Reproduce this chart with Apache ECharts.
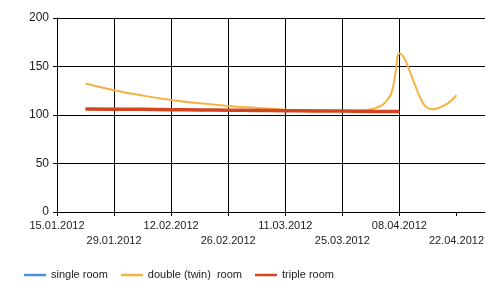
<!DOCTYPE html>
<html>
<head>
<meta charset="utf-8">
<script src="https://cdn.jsdelivr.net/npm/echarts@6/dist/echarts.min.js"></script>
<style>html,body{margin:0;padding:0;background:#fff}#c{width:500px;height:296px}</style>
</head>
<body>
<div id="c"></div>
<script>
var startDate = '2012-01-15';
var tickLabels = ['15.01.2012','29.01.2012','12.02.2012','26.02.2012','11.03.2012','25.03.2012','08.04.2012','22.04.2012'];
var seriesNames = ['single room', 'double (twin)  room', 'triple room'];

var weeklyDates = ['2012-01-22','2012-01-29','2012-02-05','2012-02-12','2012-02-19','2012-02-26','2012-03-04','2012-03-11','2012-03-18','2012-03-25','2012-04-01','2012-04-08'];
var singleValues = [106.2,106.0,105.8,105.5,105.2,105.0,104.7,104.5,104.2,104.0,103.7,103.5];
var tripleValues = [106.2,106.0,105.8,105.5,105.2,105.0,104.7,104.5,104.2,104.0,103.7,103.5];

var doubleDates = ['2012-01-22','2012-01-29','2012-02-05','2012-02-12','2012-02-19','2012-02-26','2012-03-04','2012-03-11','2012-03-18','2012-03-25','2012-03-27','2012-03-29',
  '2012-03-31','2012-04-01','2012-04-02','2012-04-03','2012-04-04','2012-04-05','2012-04-06','2012-04-07','2012-04-08','2012-04-09','2012-04-10','2012-04-11',
  '2012-04-12','2012-04-13','2012-04-14','2012-04-15','2012-04-16','2012-04-17','2012-04-18','2012-04-19','2012-04-20','2012-04-21','2012-04-22'];
var doubleValues = [132.5,125.5,120.0,115.5,112.0,109.3,107.3,105.5,104.5,104.0,104.3,104.7,
  105.2,106.0,107.0,108.5,111.0,115.5,122.0,142.0,163.5,160.0,151.0,140.0,
  129.0,119.0,111.0,107.0,106.0,106.5,108.0,110.0,112.5,116.0,120.5];

function dayOf(s) {
  var p = s.split('-');
  var a = Date.UTC(+p[0], +p[1] - 1, +p[2]);
  var q = startDate.split('-');
  var b = Date.UTC(+q[0], +q[1] - 1, +q[2]);
  return Math.round((a - b) / 86400000);
}
function pairs(dates, vals) {
  return dates.map(function (d, i) { return [dayOf(d), vals[i]]; });
}

var chart = echarts.init(document.getElementById('c'), null, {renderer: 'canvas'});
var font = 'Arial, "Liberation Sans", sans-serif';
chart.setOption({
  animation: false,
  color: ['#4a8fe0', '#f5b342', '#d2451e'],
  grid: {left: 57, right: 15, top: 18, bottom: 84, containLabel: false},
  legend: {
    left: 24, top: 269.5, padding: 0, itemWidth: 22, itemHeight: 2.5, itemGap: 13, icon: 'rect',
    textStyle: {fontFamily: font, fontSize: 11, color: '#222'},
    data: seriesNames
  },
  xAxis: {
    type: 'value', min: 0, max: 105, interval: 14,
    axisLine: {show: true, onZero: false, lineStyle: {color: '#000', width: 1}},
    axisTick: {show: true, length: 4, lineStyle: {color: '#000'}, customValues: [0,14,28,42,56,70,84,98]},
    splitLine: {show: true, showMaxLine: false, lineStyle: {color: '#000', width: 1}},
    axisLabel: {
      show: true, margin: 6, fontFamily: font, fontSize: 11, color: '#222', lineHeight: 15,
      showMaxLabel: false,
      formatter: function (v) {
        if (v % 14 !== 0) return '';
        var i = v / 14;
        var t = tickLabels[i] || '';
        return (i % 2 === 1) ? ('\n' + t) : t;
      }
    }
  },
  yAxis: {
    type: 'value', min: 0, max: 200, interval: 50,
    axisLine: {show: true, lineStyle: {color: '#000', width: 1}},
    axisTick: {show: true, length: 4, inside: false, lineStyle: {color: '#000'}},
    splitLine: {show: true, lineStyle: {color: '#000', width: 1}},
    axisLabel: {margin: 8, fontFamily: font, fontSize: 12, color: '#222'}
  },
  series: [
    {name: seriesNames[0], type: 'line', data: pairs(weeklyDates, singleValues), smooth: 0.5, symbol: 'none', lineStyle: {width: 2}, z: 1},
    {name: seriesNames[1], type: 'line', data: pairs(doubleDates, doubleValues), smooth: 0.5, symbol: 'none', lineStyle: {width: 2}, z: 2},
    {name: seriesNames[2], type: 'line', data: pairs(weeklyDates, tripleValues), smooth: 0.5, symbol: 'none', lineStyle: {width: 3.5}, z: 3}
  ]
});
</script>
</body>
</html>
